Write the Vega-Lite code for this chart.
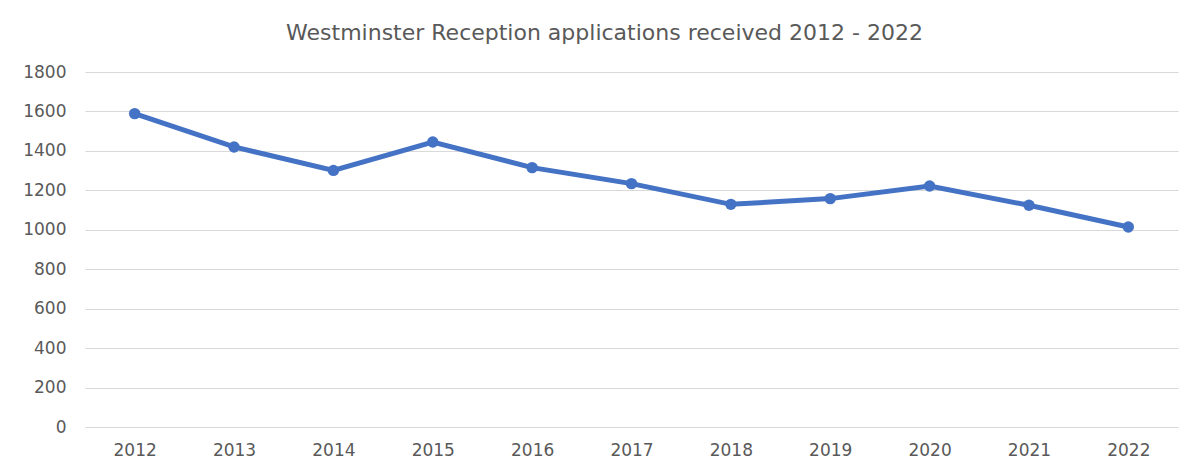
{
  "$schema": "https://vega.github.io/schema/vega-lite/v6.json",
  "autosize": "none",
  "width": 1093,
  "height": 355,
  "padding": {"left": 85, "top": 72, "right": 26, "bottom": 45},
  "background": "white",
  "title": {
    "text": "Westminster Reception applications received 2012 - 2022",
    "font": "DejaVu Sans",
    "fontSize": 22,
    "fontWeight": "normal",
    "color": "#595959",
    "anchor": "middle",
    "offset": 18,
    "dx": -27
  },
  "data": {
    "values": [
      {"year": "2012", "applications": 1589},
      {"year": "2013", "applications": 1420},
      {"year": "2014", "applications": 1301},
      {"year": "2015", "applications": 1445},
      {"year": "2016", "applications": 1315},
      {"year": "2017", "applications": 1234},
      {"year": "2018", "applications": 1129},
      {"year": "2019", "applications": 1158},
      {"year": "2020", "applications": 1222},
      {"year": "2021", "applications": 1124},
      {"year": "2022", "applications": 1014}
    ]
  },
  "mark": {"type": "line", "color": "#4472C4", "strokeWidth": 5, "point": {"filled": true, "size": 130, "color": "#4472C4"}},
  "encoding": {
    "x": {
      "field": "year",
      "type": "ordinal",
      "scale": {"type": "point", "padding": 0.5},
      "axis": {"title": null, "labelAngle": 0, "ticks": false, "domain": false, "grid": false, "labelPadding": 15, "labelFont": "DejaVu Sans", "labelFontSize": 17, "labelColor": "#595959"}
    },
    "y": {
      "field": "applications",
      "type": "quantitative",
      "scale": {"domain": [0, 1800], "nice": false},
      "axis": {"title": null, "format": "d", "values": [0, 200, 400, 600, 800, 1000, 1200, 1400, 1600, 1800], "ticks": false, "domain": false, "gridColor": "#d9d9d9", "gridWidth": 1, "labelPadding": 19, "labelFont": "DejaVu Sans", "labelFontSize": 17, "labelColor": "#595959"}
    }
  },
  "config": {"view": {"stroke": null}}
}
